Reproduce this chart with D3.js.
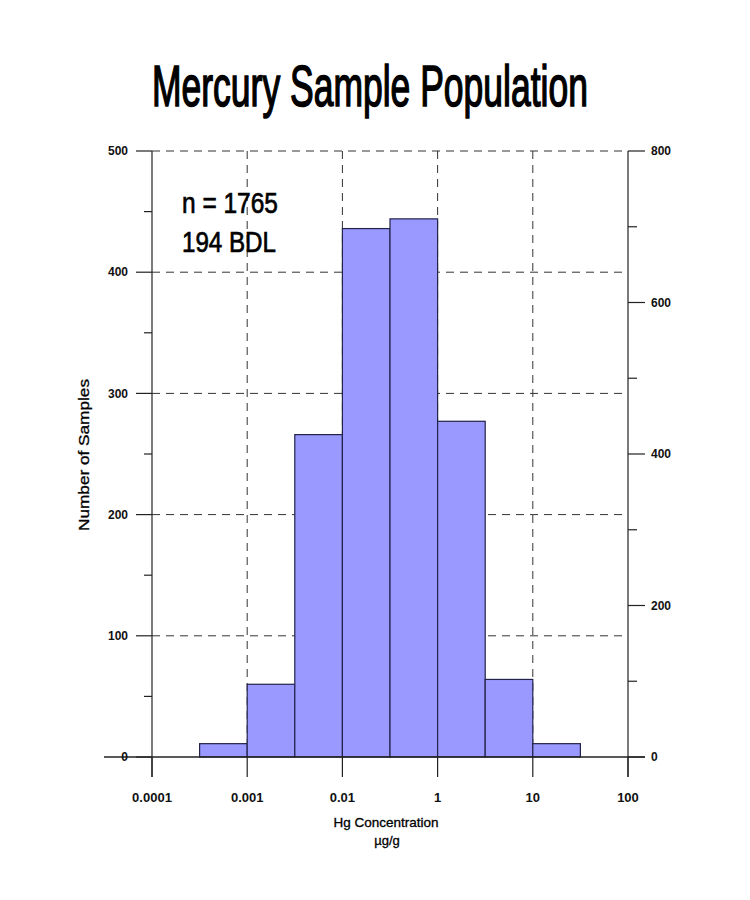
<!DOCTYPE html>
<html><head><meta charset="utf-8">
<script src="https://cdn.jsdelivr.net/npm/d3@7"></script>
<style>body{margin:0;background:#fff}</style>
</head><body><svg id="c" width="750" height="900"></svg>
<script>
// ---- data ----
const binEdgeExponents = [-4, -3.5, -3, -2.5, -2, -1.5, -1, -0.5, 0, 0.5, 1];
const binCounts = [0, 11, 60, 266, 436, 444, 277, 64, 11, 0];
const xTickValues = [1e-4, 1e-3, 1e-2, 1e-1, 1, 10];
const xTickLabels = ["0.0001", "0.001", "0.01", "1", "10", "100"];
const leftMajorTicks = [0, 100, 200, 300, 400, 500];
const leftMinorTicks = [50, 150, 250, 350, 450];
const rightMajorTicks = [0, 200, 400, 600, 800];
const rightMinorTicks = [100, 300, 500, 700];
const title = "Mercury Sample Population";
const annotations = ["n = 1765", "194 BDL"];
const yTitle = "Number of Samples";
const xTitle = ["Hg Concentration", "µg/g"];

const svg = d3.select("#c");
const L = 152, R = 628, T = 151, B = 757;
const x = d3.scaleLog().domain([1e-4, 10]).range([L, R]);
const y = d3.scaleLinear().domain([0, 500]).range([B, T]);
const y2 = d3.scaleLinear().domain([0, 800]).range([B, T]);
const ink = "#222";
const font = "'Liberation Sans', Arial, sans-serif";

// grid
const g = svg.append("g");
g.selectAll("line.h").data(leftMajorTicks.filter(d => d > 0)).join("line")
  .attr("x1", L).attr("x2", R).attr("y1", d => y(d)).attr("y2", d => y(d))
  .attr("stroke", "#333").attr("stroke-width", 1).attr("stroke-dasharray", "8,6");
g.selectAll("line.v").data(xTickValues.slice(1, -1)).join("line")
  .attr("x1", d => x(d)).attr("x2", d => x(d)).attr("y1", T).attr("y2", B)
  .attr("stroke", "#333").attr("stroke-width", 1).attr("stroke-dasharray", "8,6");

// bars
const bins = binCounts.map((c, i) => ({lo: Math.pow(10, binEdgeExponents[i]), hi: Math.pow(10, binEdgeExponents[i + 1]), c}));
svg.append("g").selectAll("rect").data(bins.filter(d => d.c > 0)).join("rect")
  .attr("x", d => x(d.lo)).attr("width", d => x(d.hi) - x(d.lo))
  .attr("y", d => y(d.c)).attr("height", d => y(0) - y(d.c))
  .attr("fill", "#9999ff").attr("stroke", "#22224a").attr("stroke-width", 1.2);

// axes lines
const ax = svg.append("g").attr("stroke", ink).attr("stroke-width", 1.2);
ax.append("line").attr("x1", L).attr("x2", L).attr("y1", T).attr("y2", B + 20);
ax.append("line").attr("x1", R).attr("x2", R).attr("y1", T).attr("y2", B + 20);
ax.append("line").attr("x1", L - 48).attr("x2", R + 17).attr("y1", B).attr("y2", B).attr("stroke-width", 1.6);
ax.selectAll("line.xt").data(xTickValues).join("line")
  .attr("x1", d => x(d)).attr("x2", d => x(d)).attr("y1", B).attr("y2", B + 20);
ax.selectAll("line.lt").data(leftMajorTicks).join("line")
  .attr("x1", L - 16).attr("x2", L).attr("y1", d => y(d)).attr("y2", d => y(d));
ax.selectAll("line.lm").data(leftMinorTicks).join("line")
  .attr("x1", L - 8).attr("x2", L).attr("y1", d => y(d)).attr("y2", d => y(d));
ax.selectAll("line.rt").data(rightMajorTicks).join("line")
  .attr("x1", R).attr("x2", R + 17).attr("y1", d => y2(d)).attr("y2", d => y2(d));
ax.selectAll("line.rm").data(rightMinorTicks).join("line")
  .attr("x1", R).attr("x2", R + 9).attr("y1", d => y2(d)).attr("y2", d => y2(d));

// tick labels
const lab = svg.append("g").attr("font-family", font).attr("fill", "#111");
lab.selectAll("text.l").data(leftMajorTicks).join("text")
  .attr("x", 128).attr("y", d => y(d)).attr("dy", "0.35em").attr("text-anchor", "end")
  .attr("font-size", 12).attr("font-weight", "bold").text(d => d);
lab.selectAll("text.r").data(rightMajorTicks).join("text")
  .attr("x", 651).attr("y", d => y2(d)).attr("dy", "0.35em").attr("text-anchor", "start")
  .attr("font-size", 12).attr("font-weight", "bold").text(d => d);
lab.selectAll("text.x").data(xTickValues).join("text")
  .attr("x", d => x(d)).attr("y", 802).attr("text-anchor", "middle")
  .attr("font-size", 13).attr("font-weight", "bold").text((d, i) => xTickLabels[i]);

// titles (condensed via horizontal scaling, medium weight via thin stroke)
function condensed(txt, x0, y0, size, targetW, sw) {
  const t = svg.append("text").attr("font-family", font).attr("font-size", size)
    .attr("fill", "#000").attr("stroke", "#000").attr("stroke-width", sw).text(txt);
  const w = t.node().getComputedTextLength();
  const s = targetW / w;
  t.attr("transform", `translate(${x0},${y0}) scale(${s},1)`);
  return t;
}
condensed(title, 152, 106, 57, 436, 1.6);
condensed(annotations[0], 182, 213, 29, 96, 0.7);
condensed(annotations[1], 182, 252, 29, 94, 0.7);

svg.append("text").attr("transform", "translate(89,455) rotate(-90)").attr("text-anchor", "middle")
  .attr("font-family", font).attr("font-size", 14).attr("stroke", "#000").attr("stroke-width", 0.3)
  .attr("textLength", 152).attr("lengthAdjust", "spacingAndGlyphs").text(yTitle);
svg.append("text").attr("x", 386).attr("y", 827).attr("text-anchor", "middle")
  .attr("font-family", font).attr("font-size", 13).attr("stroke", "#000").attr("stroke-width", 0.3)
  .attr("textLength", 105).attr("lengthAdjust", "spacingAndGlyphs").text(xTitle[0]);
svg.append("text").attr("x", 387).attr("y", 845).attr("text-anchor", "middle")
  .attr("font-family", font).attr("font-size", 13).attr("stroke", "#000").attr("stroke-width", 0.3).text(xTitle[1]);
</script></body></html>
